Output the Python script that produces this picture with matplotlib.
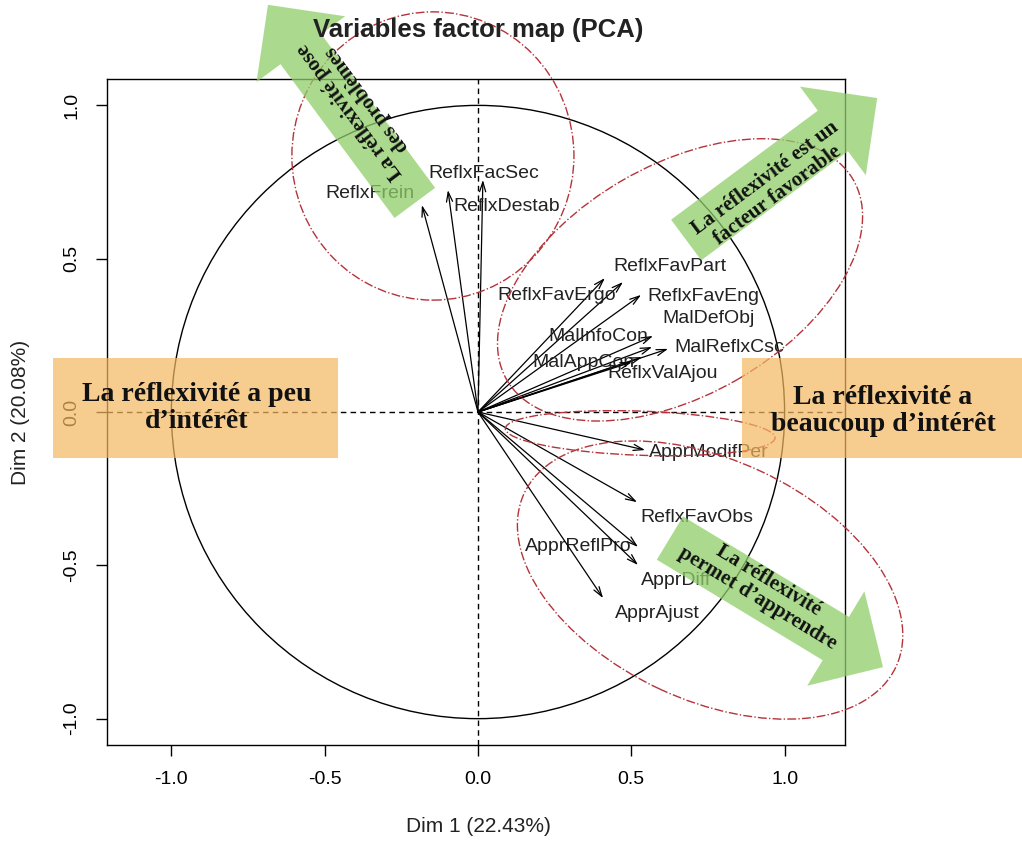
import matplotlib.pyplot as plt
from matplotlib.patches import Circle, Ellipse, FancyArrow, Rectangle

# PCA variable coordinates (Dim 1, Dim 2)
variables = ["ReflxFrein", "ReflxFacSec", "ReflxDestab",
             "ReflxFavPart", "ReflxFavErgo", "ReflxFavEng", "MalInfoCon",
             "MalDefObj", "MalReflxCsc", "MalAppCon", "ReflxValAjou",
             "ApprModifPer", "ReflxFavObs", "ApprReflPro", "ApprDiff", "ApprAjust"]
dim1 = [-0.183, -0.098, 0.016,
        0.473, 0.414, 0.532, 0.571,
        0.568, 0.620, 0.535, 0.502,
        0.545, 0.519, 0.522, 0.522, 0.408]
dim2 = [0.675, 0.724, 0.757,
        0.424, 0.437, 0.382, 0.248,
        0.212, 0.206, 0.179, 0.163,
        -0.124, -0.294, -0.440, -0.499, -0.607]
# label offsets from the arrow tip (pixels)
label_dx = [-52, 36, 24, 47, -48, 62, -55, 56, 61, -59, 31, 64, 60, -60, 38, 54]
label_dy = [12, 17, -27, 16, -17, -2, -1, 29, 1, -5, -11, -2, -15, 0, -15, -15]

x_ticks = [-1.0, -0.5, 0.0, 0.5, 1.0]
y_ticks = [-1.0, -0.5, 0.0, 0.5, 1.0]

# dash-dot groupings: centre x, centre y, width, height, angle
groups = [(-0.147, 0.835, 0.92, 0.94, 0),
          (0.659, 0.431, 1.305, 0.75, 30),
          (0.757, -0.548, 1.338, 0.783, -25),
          (0.529, -0.069, 0.88, 0.144, -2)]

# green block arrows: tail x, tail y, tip x, tip y, text, text x, text y, rotation
green_arrows = [(-0.206, 0.682, -0.685, 1.328, "La réflexivité pose\ndes problèmes", -0.39, 1.0, 126.6),
                (0.679, 0.561, 1.302, 1.024, "La réflexivité est un\nfacteur favorable", 0.956, 0.734, 36.6),
                (0.626, -0.411, 1.321, -0.832, "La réflexivité\npermet d’apprendre", 0.93, -0.58, -31.2)]

sans = "Liberation Sans"
serif = "Liberation Serif"

fig = plt.figure(figsize=(10.22, 8.47), dpi=100)
ax = fig.add_axes([0.1047, 0.1204, 0.7221, 0.7863])
ax.set_xlim(-1.21, 1.197)
ax.set_ylim(-1.086, 1.086)

ax.add_patch(Circle((0, 0), 1, fill=False, color="black", lw=1))
ax.axhline(0, color="black", lw=1, ls=(0, (4, 3)))
ax.axvline(0, color="black", lw=1, ls=(0, (4, 3)))

for name, x, y, dx, dy in zip(variables, dim1, dim2, label_dx, label_dy):
    ax.annotate("", xy=(x, y), xytext=(0, 0),
                arrowprops=dict(arrowstyle="->,head_length=0.7,head_width=0.22",
                                color="black", lw=0.9, shrinkA=0, shrinkB=0))
    ax.annotate(name, xy=(x, y), xytext=(dx, dy), textcoords="offset pixels",
                ha="center", va="center", fontsize=14, family=sans, color="#222222")

for cx, cy, w, h, ang in groups:
    ax.add_patch(Ellipse((cx, cy), w, h, angle=ang, fill=False, color="#b5333a",
                         lw=1, ls="-.", clip_on=False, zorder=4))

for x0, y0, x1, y1, txt, tx, ty, rot in green_arrows:
    ax.add_patch(FancyArrow(x0, y0, x1 - x0, y1 - y0, width=0.165, head_width=0.36,
                            head_length=0.18, length_includes_head=True,
                            color="#8fce6a", alpha=0.75, lw=0, clip_on=False, zorder=5))
    ax.text(tx, ty, txt, rotation=rot, rotation_mode="anchor", ha="center", va="center",
            fontsize=15, fontweight="bold", family=serif, color="#111111",
            linespacing=1.05, zorder=6, clip_on=False)

ax.set_xticks(x_ticks)
ax.set_yticks(y_ticks)
ax.set_xticklabels([f"{t:.1f}" for t in x_ticks], family=sans, fontsize=14)
ax.set_yticklabels([f"{t:.1f}" for t in y_ticks], family=sans, fontsize=14,
                   rotation=90, va="center")
ax.tick_params(direction="out", length=8, width=1, pad=11)
for s in ax.spines.values():
    s.set_linewidth(1)

fig.text(0.4677, 0.965, "Variables factor map (PCA)", ha="center", va="center",
         fontsize=18.5, fontweight="bold", family=sans, color="#222222")
fig.text(0.4677, 0.024, "Dim 1 (22.43%)", ha="center", va="center",
         fontsize=15, family=sans, color="#222222")
fig.text(0.02, 0.5135, "Dim 2 (20.08%)", ha="center", va="center", rotation=90,
         fontsize=15, family=sans, color="#222222")

# orange boxes
fig.add_artist(Rectangle((0.0519, 0.4593), 0.2789, 0.1181, transform=fig.transFigure,
                         color="#f5b860", alpha=0.7, lw=0, zorder=7))
fig.add_artist(Rectangle((0.726, 0.4593), 0.274, 0.1181, transform=fig.transFigure,
                         color="#f5b860", alpha=0.7, lw=0, zorder=7))
fig.text(0.1928, 0.5183, "La réflexivité a peu\nd’intérêt", ha="center", va="center",
         fontsize=20, fontweight="bold", family=serif, color="#111111",
         linespacing=1.1, zorder=8)
fig.text(0.864, 0.5148, "La réflexivité a\nbeaucoup d’intérêt", ha="center", va="center",
         fontsize=20, fontweight="bold", family=serif, color="#111111",
         linespacing=1.1, zorder=8)

fig.savefig("out.png", dpi=100)
